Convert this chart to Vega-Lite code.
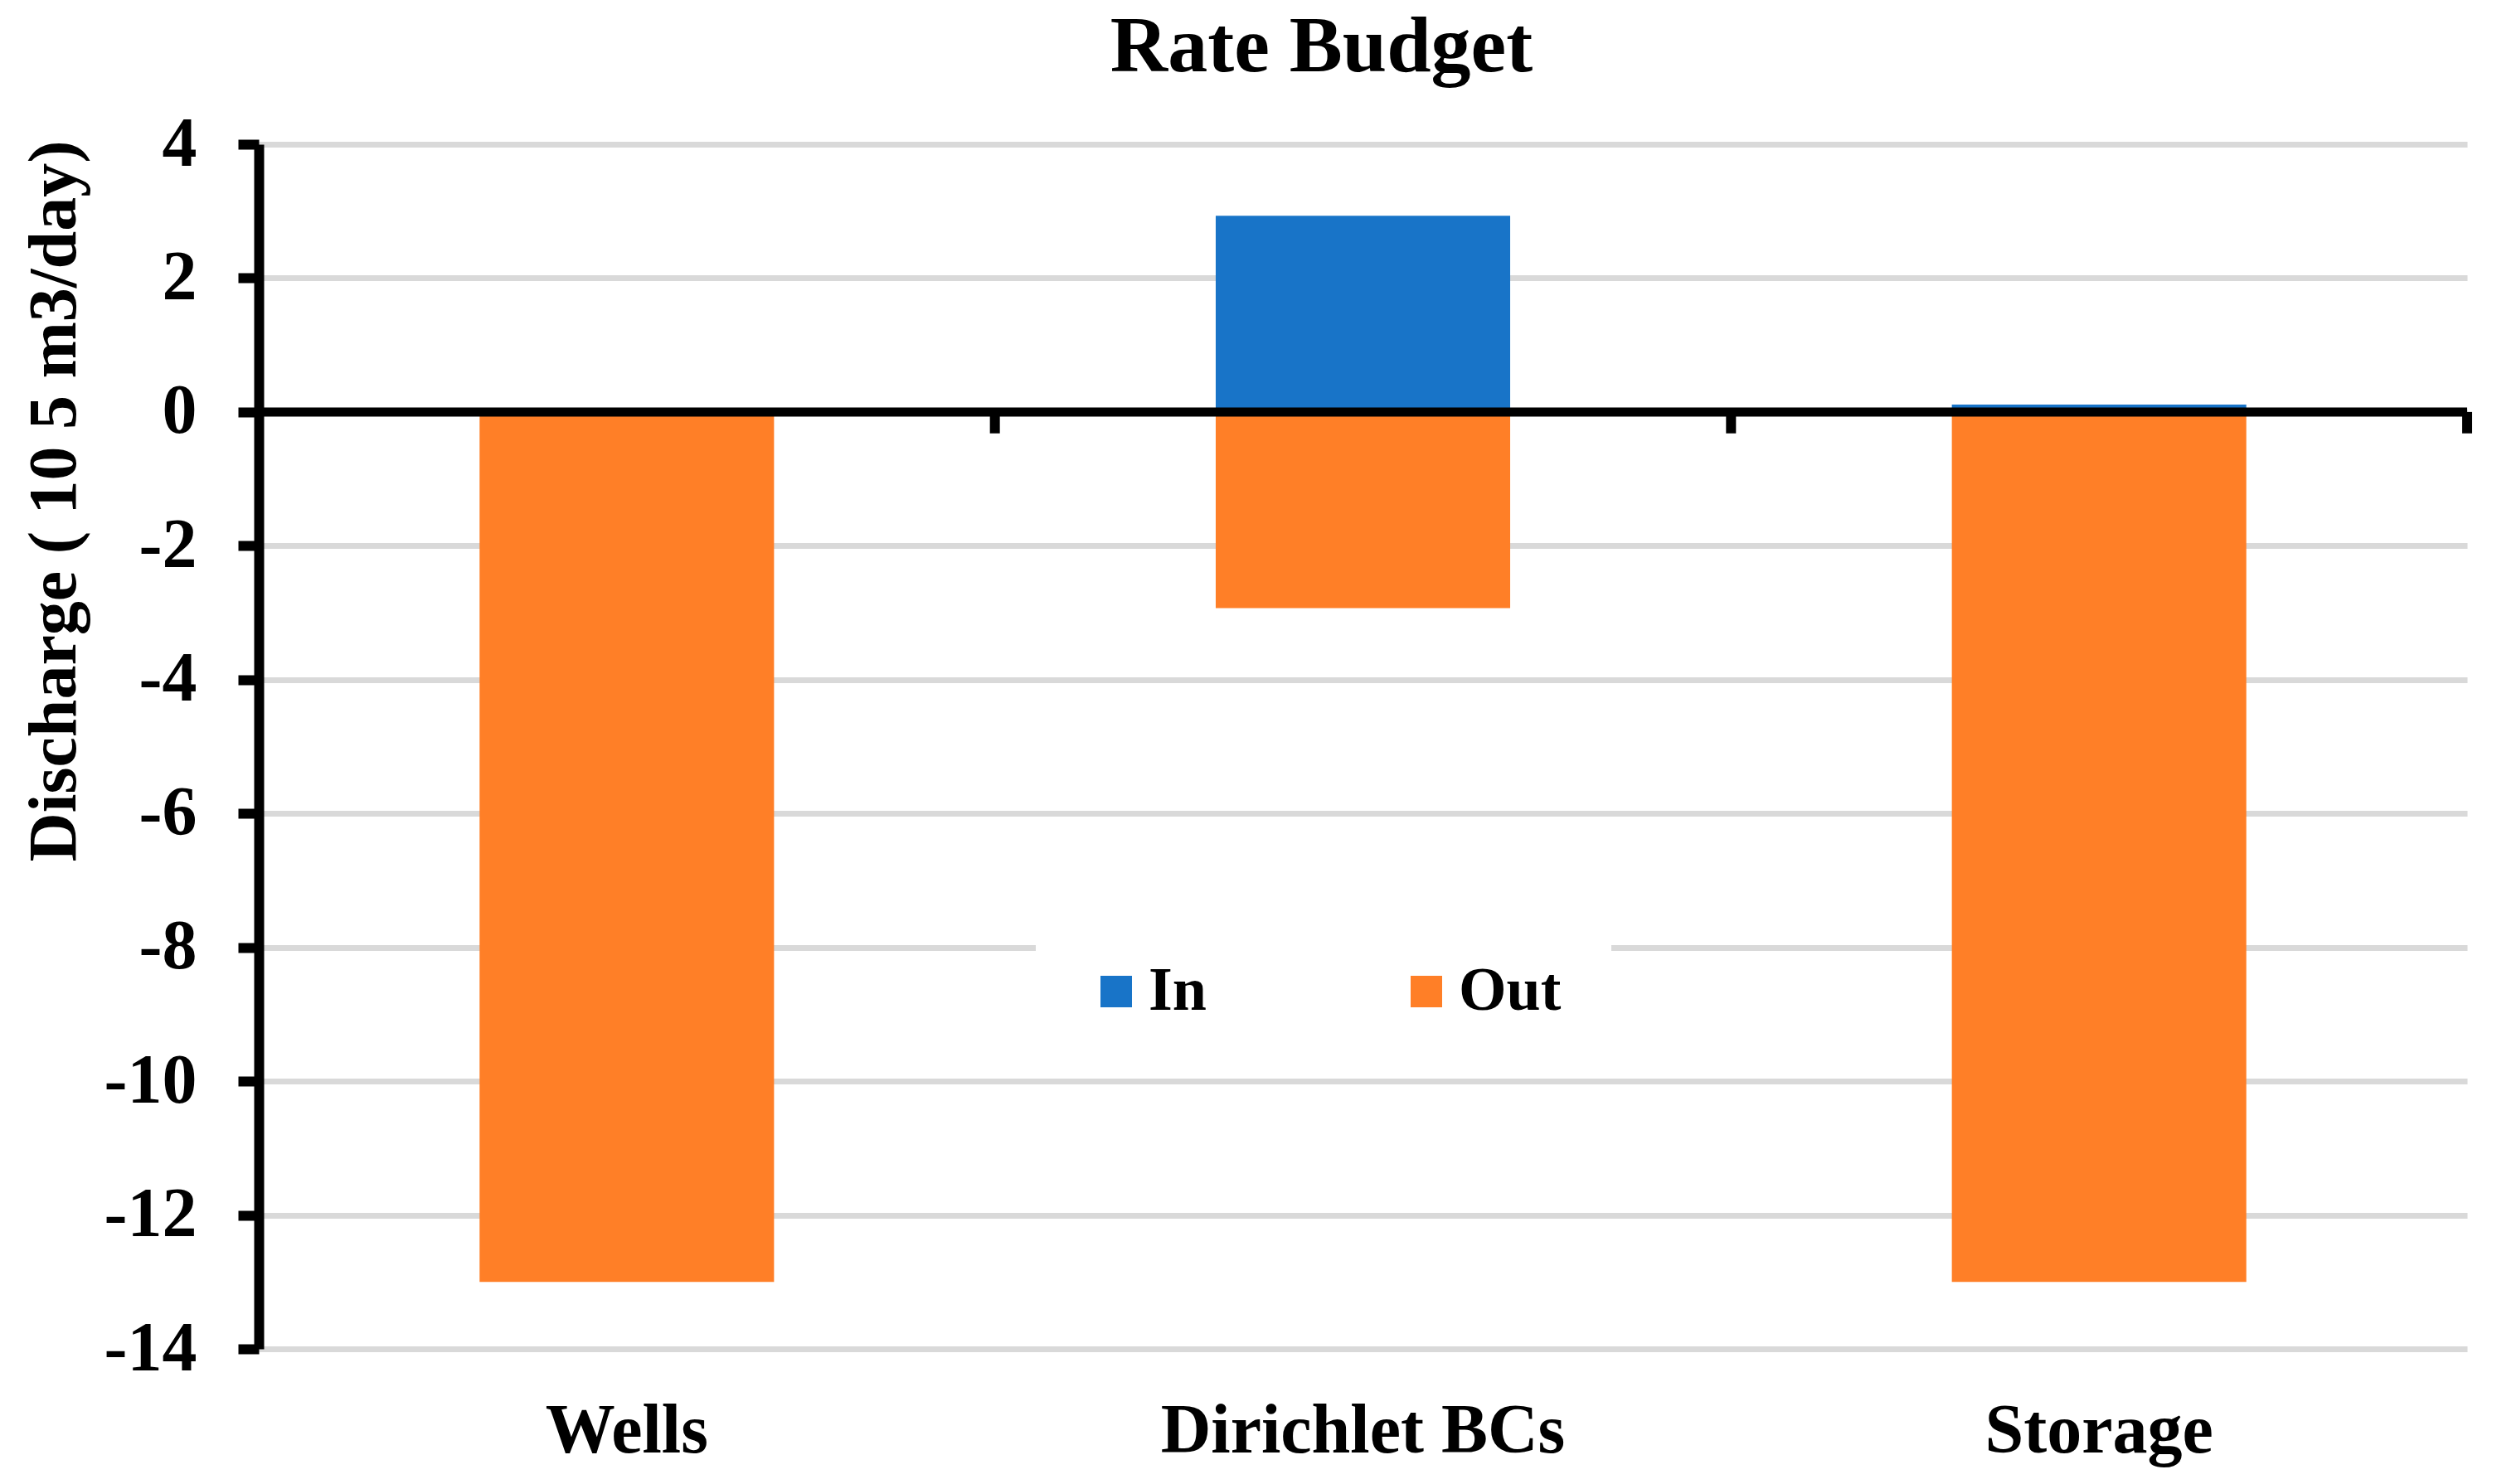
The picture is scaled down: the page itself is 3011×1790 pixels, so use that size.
{
  "$schema": "https://vega.github.io/schema/vega-lite/v6.json",
  "width": 2663,
  "height": 1453,
  "autosize": {"type": "none"},
  "padding": {"left": 312, "top": 174, "right": 36, "bottom": 163},
  "background": "white",
  "config": {"view": {"stroke": null}, "font": "Liberation Serif"},
  "title": {
    "text": "Rate Budget",
    "font": "Liberation Serif",
    "fontSize": 96,
    "fontWeight": "bold",
    "color": "black",
    "anchor": "middle",
    "baseline": "alphabetic",
    "dx": -50,
    "dy": 90,
    "offset": 40
  },
  "resolve": {"scale": {"x": "independent"}},
  "layer": [
    {
      "data": {
        "values": [
          {"category": "Wells", "flow": "In", "value": 0},
          {"category": "Wells", "flow": "Out", "value": -13},
          {"category": "Dirichlet BCs", "flow": "In", "value": 2.93},
          {"category": "Dirichlet BCs", "flow": "Out", "value": -2.93},
          {"category": "Storage", "flow": "In", "value": 0.11},
          {"category": "Storage", "flow": "Out", "value": -13}
        ]
      },
      "mark": {"type": "bar"},
      "encoding": {
        "x": {
          "field": "category",
          "type": "nominal",
          "sort": ["Wells", "Dirichlet BCs", "Storage"],
          "scale": {"paddingInner": 0.6, "paddingOuter": 0.3},
          "axis": {
            "title": null,
            "domain": false,
            "ticks": false,
            "tickSize": 0,
            "grid": false,
            "labelFont": "Liberation Serif",
            "labelFontSize": 84,
            "labelFontWeight": "bold",
            "labelColor": "black",
            "labelAngle": 0,
            "labelLimit": 0,
            "labelBaseline": "alphabetic",
            "labelPadding": 124
          }
        },
        "y": {
          "field": "value",
          "type": "quantitative",
          "stack": null,
          "scale": {"domain": [-14, 4], "nice": false},
          "axis": {
            "title": "Discharge ( 10 5 m3/day)",
            "values": [-14, -12, -10, -8, -6, -4, -2, 0, 2, 4],
            "labelExpr": "'' + datum.value",
            "grid": true,
            "gridColor": "#d9d9d9",
            "gridWidth": 7,
            "domainColor": "black",
            "domainWidth": 12,
            "tickColor": "black",
            "tickWidth": 12,
            "tickSize": 25,
            "labelFont": "Liberation Serif",
            "labelFontSize": 84,
            "labelFontWeight": "bold",
            "labelColor": "black",
            "labelPadding": 50,
            "labelLimit": 0,
            "labelFlush": false,
            "labelOverlap": false,
            "titleFont": "Liberation Serif",
            "titleFontSize": 82,
            "titleFontWeight": "bold",
            "titleColor": "black",
            "titleAngle": 270,
            "titleAlign": "center",
            "titleBaseline": "alphabetic",
            "titleX": -222,
            "titleY": 430
          }
        },
        "color": {
          "field": "flow",
          "type": "nominal",
          "scale": {"domain": ["In", "Out"], "range": ["#1874C8", "#FF7F27"]},
          "legend": {
            "title": null,
            "orient": "none",
            "legendX": 937,
            "legendY": 925,
            "direction": "horizontal",
            "symbolType": "square",
            "symbolSize": 1444,
            "symbolStrokeWidth": 0,
            "symbolOpacity": 1,
            "labelFont": "Liberation Serif",
            "labelFontSize": 74,
            "labelFontWeight": "bold",
            "labelColor": "black",
            "labelOffset": 2,
            "columnPadding": 228,
            "padding": 60,
            "fillColor": "white"
          }
        }
      }
    },
    {
      "data": {"values": [{"value": 0}]},
      "mark": {"type": "rule", "color": "black", "strokeWidth": 11},
      "encoding": {
        "y": {"field": "value", "type": "quantitative", "scale": {"domain": [-14, 4], "nice": false}}
      }
    },
    {
      "data": {
        "values": [
          {"pos": 1, "value": 0, "value2": -0.32},
          {"pos": 2, "value": 0, "value2": -0.32},
          {"pos": 3, "value": 0, "value2": -0.32}
        ]
      },
      "mark": {"type": "rule", "color": "black", "strokeWidth": 12},
      "encoding": {
        "x": {"field": "pos", "type": "quantitative", "scale": {"domain": [0, 3], "nice": false, "zero": false}, "axis": null},
        "y": {"field": "value", "type": "quantitative", "scale": {"domain": [-14, 4], "nice": false}},
        "y2": {"field": "value2"}
      }
    }
  ]
}
